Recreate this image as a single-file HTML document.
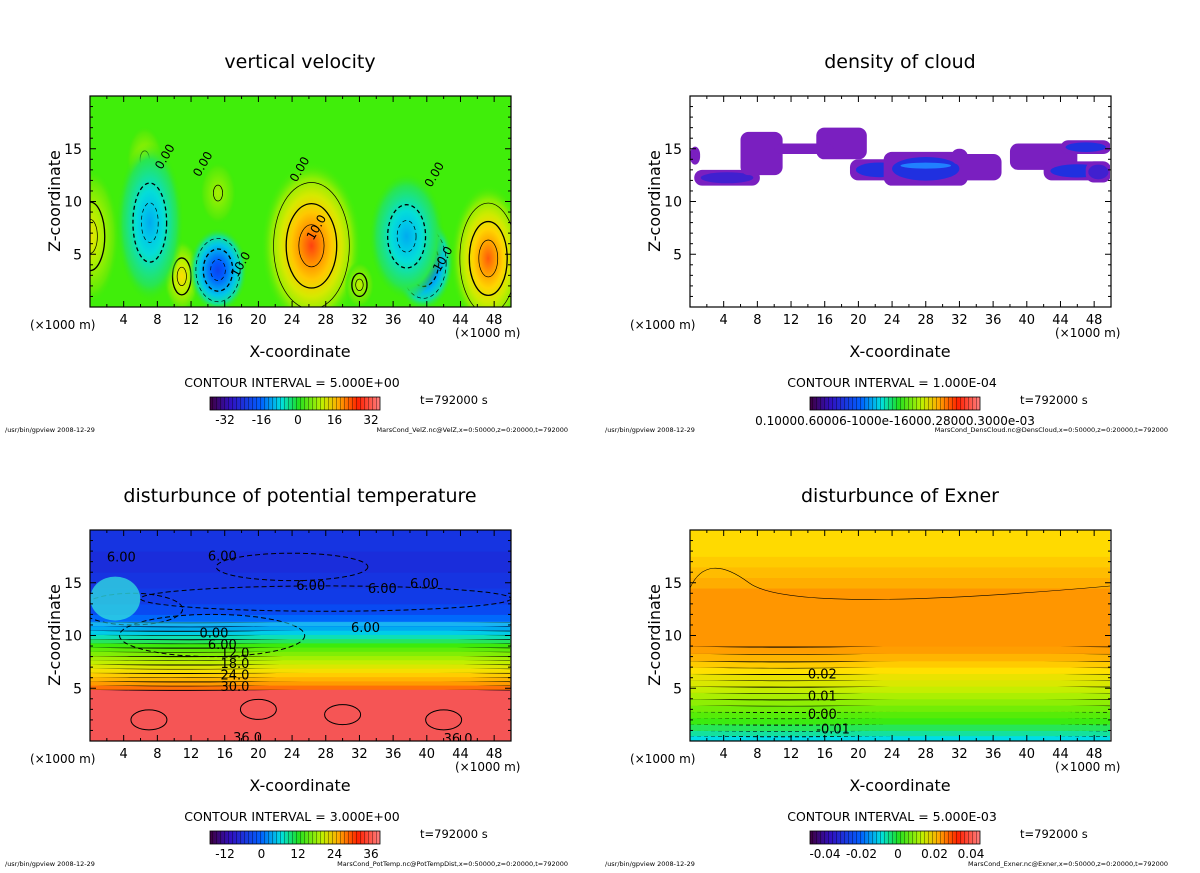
<!DOCTYPE html>
<html><head><meta charset="utf-8"><style>
body{margin:0;background:#fff;}
svg text{font-family:"DejaVu Sans","Liberation Sans",sans-serif;fill:#000;}
</style></head><body>
<svg id="s" width="1200" height="868" viewBox="0 0 1200 868" xmlns="http://www.w3.org/2000/svg">
<defs>
<clipPath id="c0"><rect x="90" y="96" width="421" height="211"/></clipPath>
<clipPath id="c1"><rect x="690" y="96" width="420" height="211"/></clipPath>
<clipPath id="c2"><rect x="90" y="530" width="421" height="211"/></clipPath>
<clipPath id="c3"><rect x="690" y="530" width="420" height="211"/></clipPath>
<linearGradient id="rb" x1="0" x2="1" y1="0" y2="0">
<stop offset="0" stop-color="#400040"/><stop offset="0.12" stop-color="#3010c0"/><stop offset="0.3" stop-color="#0060ff"/><stop offset="0.42" stop-color="#00e0e0"/><stop offset="0.52" stop-color="#20e020"/><stop offset="0.66" stop-color="#c0f000"/><stop offset="0.75" stop-color="#ffb000"/><stop offset="0.87" stop-color="#ff2000"/><stop offset="1" stop-color="#ff8080"/>
</linearGradient>
<pattern id="stripes" width="4" height="13" patternUnits="userSpaceOnUse"><rect x="0" y="0" width="1" height="13" fill="#000" opacity="0.35"/></pattern>
</defs>
<g id="root"></g>
</svg>
<script>
// ---- vertical velocity blobs (x in km, z in km, value m/s, spread in km) ----
const velX=[26.3,47.3,0,10.9,32,15.2,6.5,7.1,15.2,39.6,37.6];
const velZ=[5.8,4.6,6.7,2.9,2.1,10.8,14,8,3.5,4.2,6.7];
const velV=[30,28,14,16,10,8,9,-10,-20,-22,-10];
const velSx=[6,4.5,3.5,2.2,1.8,2.2,2.2,4,3.5,3.6,4.5];
const velSz=[8,7,6.5,3.5,2.2,3,3.2,7.5,4,4.5,6];
// ---- cloud density patches ----
const cloudX=[0,0.5,6,15,10,19,23,32,31,38,42,47,44];
const cloudX2=[1.2,8.3,11,21,17,26,33,37,33,46,50,50,50];
const cloudZ1=[13.5,11.5,12.5,14,14.5,12,11.5,12,13.5,13,12,11.8,14.5];
const cloudZ2=[15.2,13,16.6,17,15.5,14,14.7,14.5,15,15.5,13.8,13.8,15.8];
const cloudV=[1,2,1,1,1,3,4,1,1,1,3,2,3];
// ---- potential temperature layers (z top in km, value K) ----
const thZ=[4.9,5.3,5.7,6.1,6.5,6.9,7.3,7.7,8.1,8.5,8.9,9.3,9.7,10.1,10.5,10.9,11.3,12,13,14.5,16,18,20];
const thV=[36,33,30,28,26,24,22,20,18,16,14,12,10,8,6,4,2,0,-3,-5,-6,-7,-6];
// ---- Exner layers ----
const exZ=[0.5,1.0,1.6,2.2,2.8,3.4,4.0,4.6,5.2,5.8,6.4,7.0,7.6,8.3,9.0,14.5,15.5,16.5,17.5,20];
const exV=[-0.02,-0.016,-0.012,-0.008,-0.004,0,0.004,0.008,0.012,0.016,0.019,0.022,0.025,0.028,0.031,0.032,0.029,0.027,0.025,0.023];
const xTicks=[4,8,12,16,20,24,28,32,36,40,44,48];
const zTicks=[5,10,15];

const NS="http://www.w3.org/2000/svg";
const root=document.getElementById('root');
function el(t,a,p){const e=document.createElementNS(NS,t);for(const k in a)e.setAttribute(k,a[k]);(p||root).appendChild(e);return e;}
function lerpC(stops,t){t=Math.max(0,Math.min(1,t));for(let i=1;i<stops.length;i++){if(t<=stops[i][0]){const a=stops[i-1],b=stops[i];const f=(t-a[0])/(b[0]-a[0]);const c=[0,1,2].map(j=>Math.round(a[1][j]+(b[1][j]-a[1][j])*f));return `rgb(${c})`;}}return `rgb(${stops[stops.length-1][1]})`;}
const CM=[[0,[60,0,80]],[0.15,[40,20,200]],[0.3,[0,90,255]],[0.42,[0,220,230]],[0.5,[60,235,10]],[0.62,[190,240,0]],[0.7,[255,220,0]],[0.8,[255,140,0]],[0.9,[255,40,20]],[1,[255,110,110]]];
const panels=[{x:90,y:96,cx:300,name:'vertical-velocity',title:'vertical velocity',ci:'5.000E+00',foot:'MarsCond_VelZ.nc@VelZ,x=0:50000,z=0:20000,t=792000',cb:['-32','-16','0','16','32']},
{x:690,y:96,cx:900,name:'density-of-cloud',title:'density of cloud',ci:'1.000E-04',foot:'MarsCond_DensCloud.nc@DensCloud,x=0:50000,z=0:20000,t=792000',cb:null},
{x:90,y:530,cx:300,name:'potential-temperature',title:'disturbunce of potential temperature',ci:'3.000E+00',foot:'MarsCond_PotTemp.nc@PotTempDist,x=0:50000,z=0:20000,t=792000',cb:['-12','0','12','24','36']},
{x:690,y:530,cx:900,name:'exner',title:'disturbunce of Exner',ci:'5.000E-03',foot:'MarsCond_Exner.nc@Exner,x=0:50000,z=0:20000,t=792000',cb:['-0.04','-0.02','0','0.02','0.04']}];
const W=421,H=211;
panels.forEach((p,i)=>{
 const g=el('g',{'clip-path':`url(#c${i})`});
 
 
 const sx=v=>p.x+v/50*W, sz=v=>p.y+H-v/20*H;
 if(i===0){
  el('rect',{x:p.x,y:p.y,width:W,height:H,fill:'rgb(64,238,10)'},g);
  velX.forEach((vx,k)=>{
   const v=velV[k];
   const id='vg'+k;
   const gr=el('radialGradient',{id:id},document.querySelector('defs'));
   const n=5;
   for(let s=0;s<=n;s++){el('stop',{offset:s/n,'stop-color':lerpC(CM,0.5+v*(1-s/n)/80),'stop-opacity':s===n?0:1},gr);}
   const e=el('ellipse',{cx:sx(vx),cy:sz(velZ[k]),rx:velSx[k]/50*W,ry:velSz[k]/20*H,fill:`url(#${id})`},g);
   
   
   for(let r=1;r<=3;r++){const f=r/4;if(Math.abs(v)*(1-f)<5)continue;
    el('ellipse',{cx:sx(vx),cy:sz(velZ[k]),rx:velSx[k]/50*W*f,ry:velSz[k]/20*H*f,fill:'none',stroke:'#000','stroke-width':r===2?1.3:0.7,'stroke-dasharray':v<0?'4,3':'none'},g);}
  });
 } else if(i===1){
  el('rect',{x:p.x,y:p.y,width:W,height:H,fill:'#fff'},g);
  cloudX.forEach((cx,k)=>{
   const r=el('rect',{x:sx(cx),y:sz(cloudZ2[k]),width:sx(cloudX2[k])-sx(cx),height:sz(cloudZ1[k])-sz(cloudZ2[k]),rx:8,fill:'#7a1fc0'},g);
   
   
   if(cloudV[k]>1){const mx=(cx+cloudX2[k])/2,mz=(cloudZ1[k]+cloudZ2[k])/2;
    el('ellipse',{cx:sx(mx),cy:sz(mz),rx:(sx(cloudX2[k])-sx(cx))*0.4,ry:(sz(cloudZ1[k])-sz(cloudZ2[k]))*0.35,fill:cloudV[k]>2?'#2030e0':'#4020d0'},g);
    if(cloudV[k]>3)el('ellipse',{cx:sx(mx),cy:sz(mz+0.3),rx:(sx(cloudX2[k])-sx(cx))*0.3,ry:3,fill:'#2080ff'},g);}
  });
 } else {
  const Z=i===2?thZ:exZ,V=i===2?thV:exV;
  let z0=0;
  Z.forEach((zt,k)=>{
   let col;
   if(i===2){col=lerpC(CM,(V[k]+20)/64); if(V[k]>=34)col='rgb(245,85,85)';}
   else{col=V[k]>0.02?lerpC([[0,[255,240,0]],[1,[255,150,0]]],(V[k]-0.02)/0.012):lerpC(CM,0.42+(V[k]+0.02)*6.5);}
   const r=el('rect',{x:p.x,y:sz(zt),width:W,height:sz(z0)-sz(zt)+0.5,fill:col},g);
   
   
   if(k<Z.length-1&&(i===3?(k<15):(k<17))){
    const yy=sz(zt);let d=`M${p.x} ${yy}`;for(let xx=0;xx<=W;xx+=20)d+=` L${p.x+xx} ${yy+Math.sin(xx/60)*1.0}`;
    el('path',{d:d,fill:'none',stroke:'#000','stroke-width':k%2?0.6:1.1,'stroke-dasharray':V[k]<0?'4,3':'none'},g);}
   z0=zt;
  });
  if(i===2){
   [[14.5,11,10,2],[5,6,12.5,1.5],[24,9,16.5,1.3],[28,22,13.5,1.2]].forEach(a=>el('ellipse',{cx:sx(a[0]),cy:sz(a[2]),rx:a[1]/50*W,ry:a[3]/20*H,fill:'none',stroke:'#000','stroke-dasharray':'5,3'},g));
   el('ellipse',{cx:sx(3),cy:sz(13.5),rx:25,ry:22,fill:'#30d8e0',opacity:0.8},g);
   el('rect',{x:p.x,y:sz(11.3),width:W,height:sz(10.9)-sz(11.3),fill:'#30e0f0',opacity:0.5},g);
   [[7,2],[20,3],[30,2.5],[42,2]].forEach(a=>el('ellipse',{cx:sx(a[0]),cy:sz(a[1]),rx:18,ry:10,fill:'none',stroke:'#000'},g));
   [['6.00',2,17.5],['6.00',14,17.6],['6.00',24.5,14.8],['6.00',33,14.5],['6.00',38,15],['6.00',31,10.8],['0.00',13,10.3],['6.00',14,9.2],['12.0',15.5,8.4],['18.0',15.5,7.4],['24.0',15.5,6.3],['30.0',15.5,5.2],['36.0',17,0.4],['36.0',42,0.3]].forEach(l=>{const t=el('text',{x:sx(l[1]),y:sz(l[2])+5,'font-size':13},g);t.textContent=l[0];});
  } else {
   el('path',{d:`M${sx(0)} ${sz(14.5)} Q${sx(2)} ${sz(18)} ${sx(7)} ${sz(15)} T${sx(50)} ${sz(14.7)}`,fill:'none',stroke:'#000','stroke-width':0.6},g);
   [['0.02',14,6.4],['0.01',14,4.3],['0.00',14,2.6],['-0.01',15,1.2]].forEach(l=>{const t=el('text',{x:sx(l[1]),y:sz(l[2])+5,'font-size':13},g);t.textContent=l[0];});
  }
 }
 if(i===0){[['0.00',8,13.2],['0.00',12.5,12.5],['0.00',24,12],['10.0',26,6.5],['10.0',17,3],['10.0',41,3.5],['0.00',40,11.5]].forEach(l=>{const t=el('text',{x:sx(l[1]),y:sz(l[2])+5,'font-size':12,transform:`rotate(-60 ${sx(l[1])} ${sz(l[2])})`},g);t.textContent=l[0];});}
 const fr=el('rect',{x:p.x,y:p.y,width:W,height:H,fill:'none',stroke:'#000','stroke-width':1.2});
 
 
 for(let v=0;v<=50;v+=2){const L=v%4===0?6:3;el('line',{x1:sx(v),x2:sx(v),y1:p.y+H,y2:p.y+H-L,stroke:'#000'});el('line',{x1:sx(v),x2:sx(v),y1:p.y,y2:p.y+L,stroke:'#000'});}
 for(let v=0;v<=20;v++){const L=v%5===0?6:3;el('line',{x1:p.x,x2:p.x+L,y1:sz(v),y2:sz(v),stroke:'#000'});el('line',{x1:p.x+W,x2:p.x+W-L,y1:sz(v),y2:sz(v),stroke:'#000'});}
 xTicks.forEach(v=>{const t=el('text',{x:sx(v),y:p.y+H+17,'font-size':13,'text-anchor':'middle'});t.textContent=v;
  
  });
 zTicks.forEach(v=>{const t=el('text',{x:p.x-8,y:sz(v)+5,'font-size':14,'text-anchor':'end'});t.textContent=v;
  
  });
 const tt=el('text',{x:p.cx,y:p.y-28,'font-size':19,'text-anchor':'middle'});tt.textContent=p.title;
 
 
 const yl=el('text',{x:p.x-30,y:p.y+105,'font-size':16,'text-anchor':'middle',transform:`rotate(-90 ${p.x-30} ${p.y+105})`});yl.textContent='Z-coordinate';
 
 
 const u1=el('text',{x:p.x-60,y:p.y+233,'font-size':12});u1.textContent='(×1000 m)';
 
 
 const u2=el('text',{x:p.x+365,y:p.y+241,'font-size':12});u2.textContent='(×1000 m)';
 
 
 const xl=el('text',{x:p.cx,y:p.y+261,'font-size':16,'text-anchor':'middle'});xl.textContent='X-coordinate';
 
 
 const ci=el('text',{x:p.cx-8,y:p.y+291,'font-size':12.5,'text-anchor':'middle'});ci.textContent='CONTOUR INTERVAL = '+p.ci;
 
 
 const cb=el('rect',{x:p.cx-90,y:p.y+301,width:170,height:13,fill:'url(#rb)',stroke:'#000','stroke-width':0.8});
 
 
 el('rect',{x:p.cx-90,y:p.y+301,width:170,height:13,fill:'url(#stripes)'});
 if(p.cb){p.cb.forEach((s,k)=>{const t=el('text',{x:p.cx-75+k*36.5,y:p.y+328,'font-size':12,'text-anchor':'middle'});t.textContent=s;
  
  });}
 else{const t=el('text',{x:p.cx-5,y:p.y+329,'font-size':12,'text-anchor':'middle'});t.textContent='0.10000.60006-1000e-16000.28000.3000e-03';
  
  }
 const tm=el('text',{x:p.cx+120,y:p.y+308,'font-size':11.5});tm.textContent='t=792000  s';
 
 
 const f1=el('text',{x:p.x-85,y:p.y+336,'font-size':6.5});f1.textContent='/usr/bin/gpview   2008-12-29';
 
 
 const f2=el('text',{x:p.x+478,y:p.y+336,'font-size':6.5,'text-anchor':'end'});f2.textContent=p.foot;
 
 
});
</script>
</body></html>
